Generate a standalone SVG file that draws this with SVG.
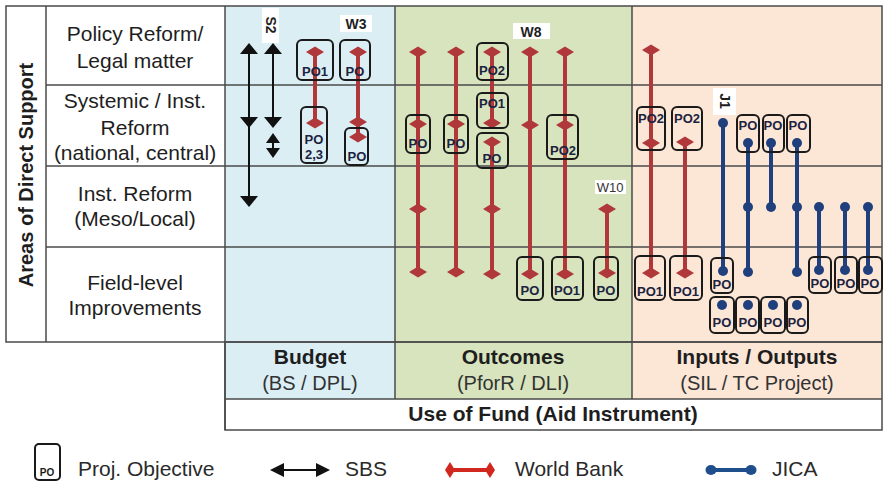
<svg xmlns="http://www.w3.org/2000/svg" width="884" height="482" viewBox="0 0 884 482">
<style>
  text{font-family:"Liberation Sans",Arial,sans-serif}
  .lbl{font-size:21px;fill:#1e1e1e;text-anchor:middle}
  .hd{font-size:21px;font-weight:bold;fill:#1e1e1e;text-anchor:middle}
  .sub{font-size:20px;fill:#333;text-anchor:middle}
  .grid{stroke:#4a4a4a;stroke-width:1.5;fill:none}
  .box{fill:none;stroke:#1a1a1a;stroke-width:2}
  .po{font-size:13px;font-weight:bold;fill:#1c2340;text-anchor:middle}
  .wb{stroke:#b0383b;stroke-width:4}
  .dm{fill:#b0383b}
  .jc{stroke:#1f3f7d;stroke-width:4}
  .dot{fill:#1f3f7d}
  .sbs{stroke:#111;stroke-width:2}
  .ah{fill:#111}
  .tag{fill:#fff}
  .tg{font-size:14px;font-weight:bold;fill:#1e1e1e;text-anchor:middle}
  .leg{font-size:21px;fill:#2a2a2a}
</style>
<defs>
  <path id="dia" d="M-9,0L0,-5.5L9,0L0,5.5Z"/>
  <path id="up" d="M0,0L9,11L-9,11Z"/>
  <path id="dn" d="M0,0L9,-11L-9,-11Z"/>
  <path id="upS" d="M0,0L7,10L-7,10Z"/>
  <path id="dnS" d="M0,0L7,-10L-7,-10Z"/>
</defs>

<rect width="884" height="482" fill="#fff"/>

<!-- column backgrounds -->
<g id="columns">
  <rect x="225" y="6" width="170" height="336" fill="#dbeef4"/>
  <rect x="395" y="6" width="237" height="336" fill="#d7e4bd"/>
  <rect x="632" y="6" width="250" height="336" fill="#fce6d6"/>
  <rect x="225" y="342" width="170" height="57" fill="#dbeef4"/>
  <rect x="395" y="342" width="237" height="57" fill="#d7e4bd"/>
  <rect x="632" y="342" width="250" height="57" fill="#fce6d6"/>
</g>

<!-- table rules -->
<g id="grid" class="grid">
  <rect x="6" y="6" width="876" height="336"/>
  <line x1="46" y1="6" x2="46" y2="342"/>
  <line x1="225" y1="6" x2="225" y2="430"/>
  <line x1="395" y1="6" x2="395" y2="399"/>
  <line x1="632" y1="6" x2="632" y2="399"/>
  <line x1="46" y1="85" x2="882" y2="85"/>
  <line x1="46" y1="166" x2="882" y2="166"/>
  <line x1="46" y1="247" x2="882" y2="247"/>
  <rect x="225" y="342" width="657" height="88"/>
  <line x1="225" y1="399" x2="882" y2="399"/>
</g>

<!-- row headings -->
<g id="row-labels">
  <text transform="translate(33,175) rotate(-90)" font-size="20" font-weight="bold" fill="#1e1e1e" text-anchor="middle">Areas of Direct Support</text>
  <text class="lbl" x="135" y="41">Policy Reform/</text>
  <text class="lbl" x="135" y="68">Legal matter</text>
  <text class="lbl" x="135" y="108">Systemic / Inst.</text>
  <text class="lbl" x="135" y="135">Reform</text>
  <text class="lbl" x="135" y="160">(national, central)</text>
  <text class="lbl" x="135" y="201">Inst. Reform</text>
  <text class="lbl" x="135" y="226">(Meso/Local)</text>
  <text class="lbl" x="135" y="290">Field-level</text>
  <text class="lbl" x="135" y="315">Improvements</text>
</g>

<!-- column headings -->
<g id="column-labels">
  <text class="hd" x="310" y="364">Budget</text>
  <text class="sub" x="310" y="390">(BS / DPL)</text>
  <text class="hd" x="513" y="364">Outcomes</text>
  <text class="sub" x="513" y="390">(PforR / DLI)</text>
  <text class="hd" x="757" y="364">Inputs / Outputs</text>
  <text class="sub" x="757" y="390">(SIL / TC Project)</text>
  <text class="hd" x="553" y="421" font-size="20">Use of Fund (Aid Instrument)</text>
</g>

<!-- programme tags -->
<g id="tags">
  <rect class="tag" x="262" y="8" width="17" height="35"/>
  <text class="tg" transform="translate(271,25) rotate(90)" dy="5">S2</text>
  <rect class="tag" x="340" y="15" width="32" height="17"/>
  <text class="tg" x="356" y="29">W3</text>
  <rect class="tag" x="513" y="23" width="37" height="16"/>
  <text class="tg" x="531" y="37" font-size="15">W8</text>
  <rect class="tag" x="595" y="180" width="31" height="14"/>
  <text x="610" y="192" font-size="13" fill="#333" text-anchor="middle">W10</text>
  <rect class="tag" x="713" y="88" width="23" height="27"/>
  <text class="tg" transform="translate(725,101) rotate(90)" dy="5">J1</text>
</g>

<!-- connectors -->
<g id="connectors">
  <!-- SBS -->
  <g class="sbs">
    <line x1="249" y1="50" x2="249" y2="200"/>
    <line x1="273" y1="50" x2="273" y2="122"/>
    <line x1="273" y1="140" x2="273" y2="150"/>
  </g>
  <g class="ah">
    <use href="#up" x="249" y="43"/>
    <use href="#dn" x="249" y="128"/>
    <use href="#dn" x="249" y="207"/>
    <use href="#up" x="273" y="43"/>
    <use href="#dn" x="273" y="128"/>
    <use href="#upS" x="273" y="133"/>
    <use href="#dnS" x="273" y="158"/>
  </g>

  <!-- World Bank -->
  <g class="wb">
    <line x1="315" y1="52" x2="315" y2="123"/>
    <line x1="358" y1="52" x2="358" y2="137"/>
    <line x1="418" y1="52" x2="418" y2="272"/>
    <line x1="456" y1="52" x2="456" y2="272"/>
    <line x1="492" y1="52" x2="492" y2="123"/>
    <line x1="492" y1="142" x2="492" y2="274"/>
    <line x1="530" y1="52" x2="530" y2="274"/>
    <line x1="565" y1="52" x2="565" y2="274"/>
    <line x1="607" y1="209" x2="607" y2="273"/>
    <line x1="651" y1="50" x2="651" y2="273"/>
    <line x1="685" y1="142" x2="685" y2="273"/>
  </g>
  <g class="dm">
    <use href="#dia" x="315" y="52"/><use href="#dia" x="315" y="123"/>
    <use href="#dia" x="358" y="52"/><use href="#dia" x="358" y="122"/><use href="#dia" x="358" y="137"/>
    <use href="#dia" x="418" y="52"/><use href="#dia" x="418" y="124"/><use href="#dia" x="418" y="209"/><use href="#dia" x="418" y="272"/>
    <use href="#dia" x="456" y="52"/><use href="#dia" x="456" y="124"/><use href="#dia" x="456" y="272"/>
    <use href="#dia" x="492" y="52"/><use href="#dia" x="492" y="123"/><use href="#dia" x="492" y="142"/><use href="#dia" x="492" y="209"/><use href="#dia" x="492" y="274"/>
    <use href="#dia" x="530" y="52"/><use href="#dia" x="530" y="125"/><use href="#dia" x="530" y="274"/>
    <use href="#dia" x="565" y="52"/><use href="#dia" x="565" y="125"/><use href="#dia" x="565" y="274"/>
    <use href="#dia" x="607" y="209"/><use href="#dia" x="607" y="273"/>
    <use href="#dia" x="651" y="50"/><use href="#dia" x="651" y="143"/><use href="#dia" x="651" y="273"/>
    <use href="#dia" x="685" y="142"/><use href="#dia" x="685" y="273"/>
  </g>

  <!-- JICA -->
  <g class="jc">
    <line x1="723" y1="123" x2="723" y2="271"/>
    <line x1="748" y1="143" x2="748" y2="272"/>
    <line x1="771" y1="143" x2="771" y2="207"/>
    <line x1="797" y1="143" x2="797" y2="272"/>
    <line x1="819" y1="207" x2="819" y2="270"/>
    <line x1="845" y1="207" x2="845" y2="270"/>
    <line x1="868" y1="207" x2="868" y2="270"/>
  </g>
  <g class="dot">
    <circle cx="723" cy="123" r="5"/><circle cx="723" cy="271" r="5"/>
    <circle cx="748" cy="143" r="5"/><circle cx="748" cy="207" r="5"/><circle cx="748" cy="272" r="5"/>
    <circle cx="771" cy="143" r="5"/><circle cx="771" cy="207" r="5"/>
    <circle cx="797" cy="143" r="5"/><circle cx="797" cy="207" r="5"/><circle cx="797" cy="272" r="5"/>
    <circle cx="819" cy="207" r="5"/><circle cx="819" cy="270" r="5"/>
    <circle cx="845" cy="207" r="5"/><circle cx="845" cy="270" r="5"/>
    <circle cx="868" cy="207" r="5"/><circle cx="868" cy="270" r="5"/>
    <circle cx="722" cy="305" r="5"/><circle cx="748" cy="305" r="5"/>
    <circle cx="773" cy="305" r="5"/><circle cx="797" cy="305" r="5"/>
  </g>
</g>

<!-- project objectives: Budget -->
<g id="w3-po1"><rect class="box" x="297" y="40" width="36" height="40" rx="5"/><text class="po" x="315" y="76">PO1</text></g>
<g id="w3-po"><rect class="box" x="340" y="40" width="30" height="40" rx="5"/><text class="po" x="355" y="76">PO</text></g>
<g id="w3-po23"><rect class="box" x="301" y="107" width="26" height="56" rx="5"/><text class="po" x="314" y="144">PO</text><text class="po" x="314" y="159" font-size="12">2,3</text></g>
<g id="w3-po-b"><rect class="box" x="345" y="128" width="23" height="37" rx="5"/><text class="po" x="357" y="161">PO</text></g>

<!-- project objectives: Outcomes -->
<g id="w8-po-1"><rect class="box" x="406" y="115" width="24" height="38" rx="5"/><text class="po" x="418" y="148">PO</text></g>
<g id="w8-po-2"><rect class="box" x="444" y="115" width="24" height="38" rx="5"/><text class="po" x="456" y="148">PO</text></g>
<g id="w8-po2-top"><rect class="box" x="477" y="43" width="31" height="37" rx="5"/><text class="po" x="492" y="75">PO2</text></g>
<g id="w8-po1-mid"><rect class="box" x="477" y="93" width="31" height="35" rx="5"/><text class="po" x="492" y="108">PO1</text></g>
<g id="w8-po-mid"><rect class="box" x="477" y="133" width="31" height="35" rx="5"/><text class="po" x="492" y="163">PO</text></g>
<g id="w8-po2-right"><rect class="box" x="547" y="115" width="31" height="44" rx="5"/><text class="po" x="563" y="155">PO2</text></g>
<g id="w8-po-field"><rect class="box" x="517" y="257" width="26" height="43" rx="5"/><text class="po" x="530" y="295">PO</text></g>
<g id="w8-po1-field"><rect class="box" x="552" y="257" width="31" height="43" rx="5"/><text class="po" x="567" y="295">PO1</text></g>
<g id="w10-po"><rect class="box" x="594" y="257" width="24" height="43" rx="5"/><text class="po" x="606" y="295">PO</text></g>

<!-- project objectives: Inputs / Outputs -->
<g id="wb-po2-a"><rect class="box" x="637" y="107" width="28" height="43" rx="5"/><text class="po" x="651" y="123">PO2</text></g>
<g id="wb-po2-b"><rect class="box" x="672" y="107" width="30" height="43" rx="5"/><text class="po" x="687" y="123">PO2</text></g>
<g id="wb-po1-a"><rect class="box" x="635" y="256" width="30" height="44" rx="5"/><text class="po" x="650" y="296">PO1</text></g>
<g id="wb-po1-b"><rect class="box" x="670" y="256" width="32" height="44" rx="5"/><text class="po" x="686" y="296">PO1</text></g>
<g id="j-po-t1"><rect class="box" x="737" y="115" width="22" height="37" rx="5"/><text class="po" x="748" y="130">PO</text></g>
<g id="j-po-t2"><rect class="box" x="763" y="115" width="21" height="37" rx="5"/><text class="po" x="773" y="130">PO</text></g>
<g id="j-po-t3"><rect class="box" x="787" y="115" width="23" height="37" rx="5"/><text class="po" x="798" y="130">PO</text></g>
<g id="j-po-f1"><rect class="box" x="711" y="258" width="22" height="35" rx="5"/><text class="po" x="722" y="289">PO</text></g>
<g id="j-po-f2"><rect class="box" x="809" y="257" width="22" height="36" rx="5"/><text class="po" x="820" y="288">PO</text></g>
<g id="j-po-f3"><rect class="box" x="835" y="257" width="22" height="36" rx="5"/><text class="po" x="846" y="288">PO</text></g>
<g id="j-po-f4"><rect class="box" x="859" y="257" width="23" height="36" rx="5"/><text class="po" x="870" y="288">PO</text></g>
<g id="j-po-b1"><rect class="box" x="710" y="297" width="24" height="36" rx="5"/><text class="po" x="722" y="327">PO</text></g>
<g id="j-po-b2"><rect class="box" x="736" y="297" width="23" height="36" rx="5"/><text class="po" x="748" y="327">PO</text></g>
<g id="j-po-b3"><rect class="box" x="761" y="297" width="24" height="36" rx="5"/><text class="po" x="773" y="327">PO</text></g>
<g id="j-po-b4"><rect class="box" x="787" y="297" width="21" height="36" rx="5"/><text class="po" x="797" y="327">PO</text></g>

<!-- legend -->
<g id="legend">
  <rect class="box" x="35" y="444" width="25" height="36" rx="4"/>
  <text x="47" y="476" font-size="10" font-weight="bold" fill="#1a1a1a" text-anchor="middle">PO</text>
  <text class="leg" x="78" y="476">Proj. Objective</text>

  <line class="sbs" x1="280" y1="470" x2="320" y2="470"/>
  <path class="ah" d="M270,470L284,463L284,477Z"/>
  <path class="ah" d="M330,470L316,463L316,477Z"/>
  <text class="leg" x="345" y="476">SBS</text>

  <line x1="446" y1="470" x2="494" y2="470" stroke="#d0281f" stroke-width="4"/>
  <path d="M445,470L450,462L455,470L450,478Z M485,470L490,462L495,470L490,478Z" fill="#d0281f"/>
  <text class="leg" x="515" y="476">World Bank</text>

  <line x1="711" y1="470" x2="751" y2="470" stroke="#1f4e8c" stroke-width="4"/>
  <ellipse cx="711" cy="470" rx="5.5" ry="5" fill="#1f4e8c"/>
  <ellipse cx="751" cy="470" rx="5.5" ry="5" fill="#1f4e8c"/>
  <text class="leg" x="772" y="476">JICA</text>
</g>
</svg>
